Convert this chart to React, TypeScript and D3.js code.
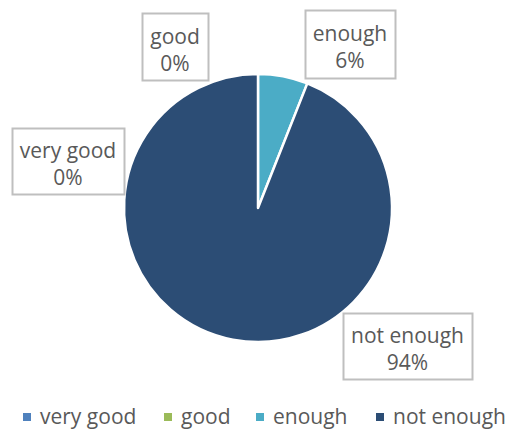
import React from "react";
import * as d3 from "d3";

const categories = ["very good", "good", "enough", "not enough"];
const values = [0, 0, 6, 94];
const percentLabels = ["0%", "0%", "6%", "94%"];
const colors = ["#4F81BD", "#9BBB59", "#4BACC6", "#2C4D75"];

// label box layout (manually placed, like the original)
const labelBoxes = [
  { x: 12, y: 128, w: 112, h: 66 },
  { x: 142, y: 13, w: 66, h: 67 },
  { x: 305, y: 10, w: 90, h: 68 },
  { x: 343, y: 313, w: 129, h: 66 },
];

const W = 505;
const H = 431;
const cx = 258;
const cy = 208;
const R = 134;
const FONT = "'Open Sans', 'Noto Sans', sans-serif";
const FS = 21;

export default function App() {
  const pie = d3
    .pie<number>()
    .sort(null)
    .value((d) => d)
    .startAngle(0)
    .endAngle(2 * Math.PI);
  const arcs = pie(values);
  const arc = d3.arc<d3.PieArcDatum<number>>().innerRadius(0).outerRadius(R);

  const legendX = [23, 164, 256, 376];

  return (
    <svg
      width={W}
      height={H}
      style={{ position: "absolute", left: 0, top: 0, background: "#fff" }}
      fontFamily={FONT}
    >
      <g transform={`translate(${cx},${cy})`}>
        {arcs.map((a, i) => (
          <path
            key={i}
            d={arc(a) || ""}
            fill={colors[i]}
            stroke="#fff"
            strokeWidth={2.5}
            strokeLinejoin="round"
          />
        ))}
      </g>
      {labelBoxes.map((b, i) => (
        <g key={i}>
          <rect
            x={b.x + 0.5}
            y={b.y + 0.5}
            width={b.w}
            height={b.h}
            fill="#fff"
            stroke="#bfbfbf"
            strokeWidth={2}
          />
          <text
            x={b.x + b.w / 2}
            y={b.y + b.h / 2 - 3}
            textAnchor="middle"
            fontSize={FS}
            fill="#595959"
          >
            {categories[i]}
          </text>
          <text
            x={b.x + b.w / 2}
            y={b.y + b.h / 2 + 24}
            textAnchor="middle"
            fontSize={FS}
            fill="#595959"
          >
            {percentLabels[i]}
          </text>
        </g>
      ))}
      {categories.map((c, i) => (
        <g key={c}>
          <rect x={legendX[i]} y={413} width={8} height={8} fill={colors[i]} />
          <text x={legendX[i] + 17} y={424} fontSize={FS} fill="#595959">
            {c}
          </text>
        </g>
      ))}
    </svg>
  );
}
